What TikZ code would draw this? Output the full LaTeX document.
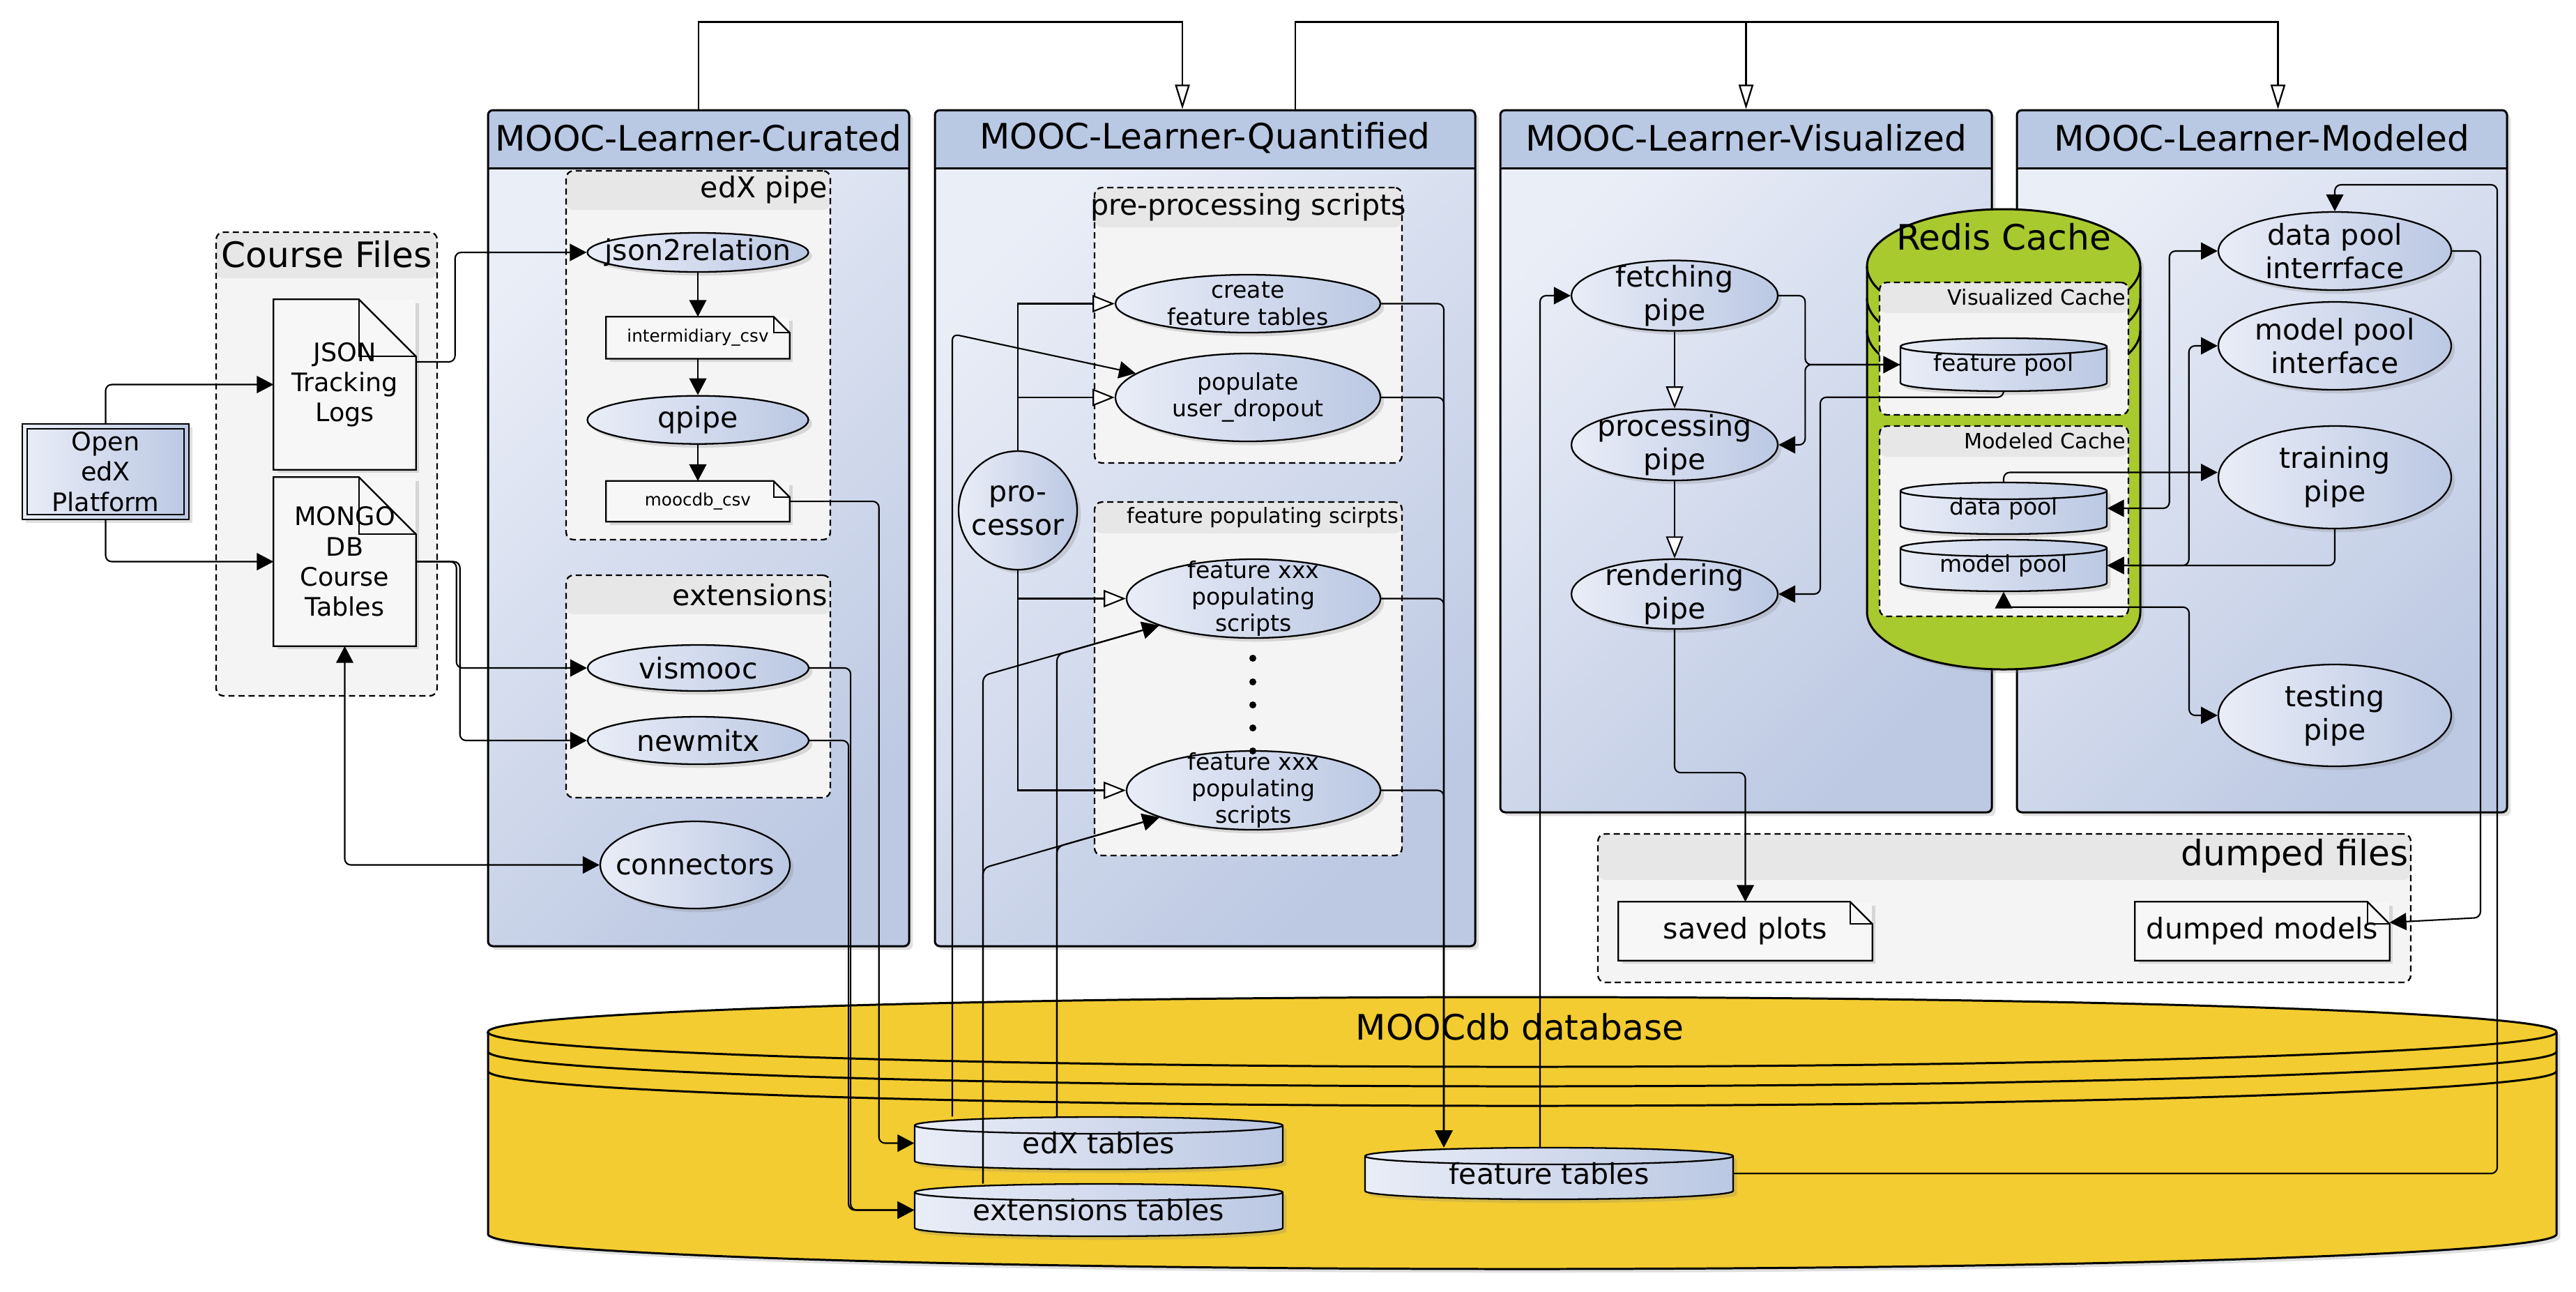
\documentclass[tikz,border=0pt]{standalone}
\usepackage{fontspec}
\setmainfont{DejaVu Sans}
\usepackage{tikz}
\usetikzlibrary{positioning,arrows.meta,shapes.geometric,shadows}
\usepackage{xcolor}
\definecolor{PanelHead}{RGB}{185,200,227}
\definecolor{PanelLight}{RGB}{234,238,247}
\definecolor{PanelDark}{RGB}{189,201,227}
\definecolor{PipeLight}{RGB}{233,237,247}
\definecolor{PipeDark}{RGB}{187,200,227}
\definecolor{GroupFill}{RGB}{244,244,244}
\definecolor{GroupHead}{RGB}{231,231,231}
\definecolor{DocFill}{RGB}{247,247,247}
\definecolor{RedisGreen}{RGB}{168,202,46}
\definecolor{DbYellow}{RGB}{242,204,48}
\newcommand{\fBig}{\fontsize{14.3}{16.8}\selectfont}
\newcommand{\fMain}{\fontsize{11.7}{13.7}\selectfont}
\newcommand{\fMid}{\fontsize{10.4}{12.3}\selectfont}
\newcommand{\fSmall}{\fontsize{9.4}{10.9}\selectfont}
\newcommand{\fTiny}{\fontsize{8.6}{10}\selectfont}
\newcommand{\fCsv}{\fontsize{7}{8.2}\selectfont}
\newcommand{\dogear}[2]{%
\draw[line width=0.65pt] (#1.south west) -- (#1.north west) -- ([xshift=-#2]#1.north east) -- ([yshift=-#2]#1.north east) -- (#1.south east) -- cycle;
\draw[line width=0.65pt] ([xshift=-#2]#1.north east) |- ([yshift=-#2]#1.north east);}
\newcommand{\dbtable}[6]{%
\draw[line width=0.65pt,left color=PipeLight,right color=PipeDark,drop shadow={opacity=0.25,shadow xshift=1.5pt,shadow yshift=-1.5pt}]
 (#2-#4/2,#3+#5/2-0.12) -- (#2-#4/2,#3-#5/2+0.12) arc[start angle=180,end angle=360,x radius=#4/2,y radius=0.12]
 -- (#2+#4/2,#3+#5/2-0.12) arc[start angle=0,end angle=180,x radius=#4/2,y radius=0.12] -- cycle;
\draw[line width=0.65pt] (#2-#4/2,#3+#5/2-0.12) arc[start angle=180,end angle=360,x radius=#4/2,y radius=0.12];
\node[rectangle,inner sep=0pt,minimum width=#4cm,minimum height=#5cm] (#1) at (#2,#3) {#6};}

\begin{document}
\begin{tikzpicture}[
softshadow/.style={drop shadow={opacity=0.25,shadow xshift=1.5pt,shadow yshift=-1.5pt}},
panel/.style={rectangle,rounded corners=2pt,draw,line width=0.85pt,top color=PanelLight,bottom color=PanelDark,shading angle=45,softshadow,
 path picture={\fill[PanelHead] (path picture bounding box.north west) rectangle ([yshift=-8.3mm]path picture bounding box.north east);
 \draw[line width=0.85pt] ([yshift=-8.3mm]path picture bounding box.north west) -- ([yshift=-8.3mm]path picture bounding box.north east);}},
paneltitle/.style={font=\fBig,inner sep=0pt},
cluster/.style={rectangle,rounded corners=3pt,draw,dash pattern=on 2.5pt off 1.6pt,line width=0.65pt,fill=GroupFill,
 path picture={\fill[GroupHead] (path picture bounding box.north west) rectangle ([yshift=-#1]path picture bounding box.north east);}},
cluster/.default=5.6mm,
clustertitle/.style={font=\fMain,inner sep=0pt},
pipe/.style={ellipse,draw,line width=0.65pt,left color=PipeLight,right color=PipeDark,inner sep=0pt,softshadow},
pipetext/.style={align=center,font=\fMain,inner sep=0pt},
doc/.style={rectangle,fill=DocFill,inner sep=0pt,align=center,softshadow},
platform/.style={rectangle,draw,line width=0.65pt,left color=PipeLight,right color=PipeDark,align=center,font=\fMid,inner sep=0pt,softshadow,
 path picture={\draw[line width=0.65pt] ([shift={(2pt,-2pt)}]path picture bounding box.north west) rectangle ([shift={(-2pt,2pt)}]path picture bounding box.south east);}},
proc/.style={circle,draw,line width=0.65pt,left color=PipeLight,right color=PipeDark,inner sep=0pt,minimum size=1.7cm,align=center,font=\fMain,softshadow},
arrow/.style={-{Triangle[length=6.8pt,width=7pt]},line width=0.6pt,rounded corners=2.5pt},
biarrow/.style={{Triangle[length=6.8pt,width=7pt]}-{Triangle[length=6.8pt,width=7pt]},line width=0.6pt,rounded corners=2.5pt},
openarrow/.style={-{Triangle[length=9pt,width=7pt,fill=white]},line width=0.6pt},
toparrow/.style={-{Triangle[length=10pt,width=6pt,fill=white]},line width=0.65pt}
]
\useasboundingbox (0,0) rectangle (36.95,-18.52);

\node[panel,minimum width=6.04cm,minimum height=11.99cm] (curated) at (10.02,-7.575) {};
\node[paneltitle] at ([yshift=-4.15mm]curated.north) {MOOC-Learner-Curated};
\node[panel,minimum width=7.75cm,minimum height=11.99cm] (quantified) at (17.285,-7.575) {};
\node[paneltitle] at ([yshift=-4.15mm]quantified.north) {MOOC-Learner-Quantified};
\node[panel,minimum width=7.05cm,minimum height=10.07cm] (visualized) at (25.045,-6.615) {};
\node[paneltitle] at ([yshift=-4.15mm]visualized.north) {MOOC-Learner-Visualized};
\node[panel,minimum width=7.03cm,minimum height=10.07cm] (modeled) at (32.445,-6.615) {};
\node[paneltitle] at ([yshift=-4.15mm]modeled.north) {MOOC-Learner-Modeled};

\node[cluster=6.6mm,minimum width=3.17cm,minimum height=6.65cm] (coursefiles) at (4.685,-6.655) {};
\node[clustertitle,font=\fBig] at ([yshift=-3.3mm]coursefiles.north) {Course Files};
\node[cluster,minimum width=3.79cm,minimum height=5.29cm] (edxpipe) at (10.015,-5.095) {};
\node[clustertitle,anchor=east] at ([xshift=-0.5mm,yshift=-2.8mm]edxpipe.north east) {edX pipe};
\node[cluster,minimum width=3.79cm,minimum height=3.19cm] (extensions) at (10.015,-9.845) {};
\node[clustertitle,anchor=east] at ([xshift=-0.5mm,yshift=-2.9mm]extensions.north east) {extensions};
\node[cluster=5.7mm,minimum width=4.41cm,minimum height=3.95cm] (prescripts) at (17.905,-4.665) {};
\node[clustertitle] at ([yshift=-2.9mm]prescripts.north) {pre-processing scripts};
\node[cluster=4.5mm,minimum width=4.41cm,minimum height=5.07cm] (featscripts) at (17.905,-9.735) {};
\node[clustertitle,anchor=east,font=\fTiny] at ([xshift=-0.5mm,yshift=-2.3mm]featscripts.north east) {feature populating scirpts};

\draw[line width=0.85pt,fill=RedisGreen,softshadow] (26.78,-3.82) -- (26.78,-8.78) arc[start angle=180,end angle=360,x radius=1.96,y radius=0.82]
 -- (30.70,-3.82) arc[start angle=0,end angle=180,x radius=1.96,y radius=0.82] -- cycle;
\foreach \ry in {3.82,4.28,4.74}
 \draw[line width=0.85pt] (26.78,-\ry) arc[start angle=180,end angle=360,x radius=1.96,y radius=0.82];
\node[paneltitle] (redistitle) at (28.74,-3.40) {Redis Cache};
\node[cluster=4.4mm,minimum width=3.57cm,minimum height=1.90cm] (viscache) at (28.745,-5.00) {};
\node[clustertitle,anchor=east,font=\fTiny] at ([xshift=-0.4mm,yshift=-2.2mm]viscache.north east) {Visualized Cache};
\node[cluster=4.4mm,minimum width=3.57cm,minimum height=2.73cm] (modcache) at (28.745,-7.475) {};
\node[clustertitle,anchor=east,font=\fTiny] at ([xshift=-0.4mm,yshift=-2.2mm]modcache.north east) {Modeled Cache};

\node[cluster=6.6mm,minimum width=11.66cm,minimum height=2.13cm] (dumped) at (28.75,-13.025) {};
\node[clustertitle,anchor=east,font=\fBig] at ([xshift=-0.4mm,yshift=-3.3mm]dumped.north east) {dumped files};

\draw[line width=0.85pt,fill=DbYellow,softshadow] (7.00,-14.80) -- (7.00,-17.70) arc[start angle=180,end angle=360,x radius=14.835,y radius=0.5]
 -- (36.67,-14.80) arc[start angle=0,end angle=180,x radius=14.835,y radius=0.5] -- cycle;
\foreach \ry in {14.80,15.08,15.36}
 \draw[line width=0.85pt] (7.00,-\ry) arc[start angle=180,end angle=360,x radius=14.835,y radius=0.5];
\node[paneltitle] (moocdbtitle) at (21.80,-14.73) {MOOCdb database};

\node[platform,minimum width=2.39cm,minimum height=1.37cm] (edx) at (1.515,-6.765) {Open\\edX\\Platform};
\node[doc,minimum width=2.03cm,minimum height=2.43cm,font=\fMid] (json) at (4.945,-5.515) {JSON\\Tracking\\Logs};
\dogear{json}{8.2mm}
\node[doc,minimum width=2.03cm,minimum height=2.41cm,font=\fMid] (mongo) at (4.945,-8.055) {MONGO\\DB\\Course\\Tables};
\dogear{mongo}{8.2mm}

\node[pipe,minimum width=3.17cm,minimum height=0.56cm,label={[pipetext]center:json2relation}] (j2r) at (10.01,-3.62) {};
\node[doc,minimum width=2.62cm,minimum height=0.59cm,font=\fCsv,below=6.3mm of j2r] (intercsv) {intermidiary\_csv};
\dogear{intercsv}{2.3mm}
\node[pipe,minimum width=3.17cm,minimum height=0.69cm,below=5.2mm of intercsv,label={[pipetext]center:qpipe}] (qpipe) {};
\node[doc,minimum width=2.62cm,minimum height=0.57cm,font=\fCsv,below=5.2mm of qpipe] (moocsv) {moocdb\_csv};
\dogear{moocsv}{2.3mm}
\node[pipe,minimum width=3.17cm,minimum height=0.66cm,label={[pipetext]center:vismooc}] (vismooc) at (10.015,-9.58) {};
\node[pipe,minimum width=3.17cm,minimum height=0.68cm,label={[pipetext]center:newmitx}] (newmitx) at (10.015,-10.62) {};
\node[pipe,minimum width=2.72cm,minimum height=1.25cm,label={[pipetext]center:connectors}] (connectors) at (9.97,-12.405) {};

\node[pipe,minimum width=3.80cm,minimum height=0.83cm,label={[pipetext,font=\fSmall]center:create\\feature tables}] (create) at (17.90,-4.355) {};
\node[pipe,minimum width=3.80cm,minimum height=1.26cm,label={[pipetext,font=\fSmall]center:populate\\user\_dropout}] (populate) at (17.90,-5.70) {};
\node[proc] (processor) at (14.60,-7.32) {pro-\\cessor};
\node[pipe,minimum width=3.64cm,minimum height=1.13cm,label={[pipetext,font=\fSmall]center:feature xxx\\populating\\scripts}] (feat1) at (17.98,-8.585) {};
\node[pipe,minimum width=3.64cm,minimum height=1.13cm,label={[pipetext,font=\fSmall]center:feature xxx\\populating\\scripts}] (feat2) at (17.98,-11.335) {};
\foreach \y in {9.44,9.78,10.11,10.44,10.77}
 \fill (17.97,-\y) circle (0.05);

\node[pipe,minimum width=2.96cm,minimum height=1.01cm,label={[pipetext]center:fetching\\pipe}] (fetching) at (24.02,-4.24) {};
\node[pipe,minimum width=2.96cm,minimum height=1.02cm,label={[pipetext]center:processing\\pipe}] (processing) at (24.02,-6.38) {};
\node[pipe,minimum width=2.96cm,minimum height=1.00cm,label={[pipetext]center:rendering\\pipe}] (rendering) at (24.02,-8.52) {};

\dbtable{fpool}{28.74}{-5.23}{2.96}{0.76}{\fSmall feature pool}
\dbtable{dpool}{28.74}{-7.29}{2.96}{0.74}{\fSmall data pool}
\dbtable{mpool}{28.74}{-8.11}{2.96}{0.74}{\fSmall model pool}

\node[pipe,minimum width=3.34cm,minimum height=1.12cm,label={[pipetext]center:data pool\\interrface}] (dpi) at (33.49,-3.60) {};
\node[pipe,minimum width=3.34cm,minimum height=1.26cm,label={[pipetext]center:model pool\\interface}] (mpi) at (33.49,-4.96) {};
\node[pipe,minimum width=3.34cm,minimum height=1.47cm,label={[pipetext]center:training\\pipe}] (training) at (33.49,-6.845) {};
\node[pipe,minimum width=3.34cm,minimum height=1.46cm,label={[pipetext]center:testing\\pipe}] (testing) at (33.49,-10.26) {};

\node[doc,minimum width=3.63cm,minimum height=0.83cm,font=\fMain] (savedplots) at (25.035,-13.355) {saved plots};
\dogear{savedplots}{3.2mm}
\node[doc,minimum width=3.64cm,minimum height=0.83cm,font=\fMain] (dumpedmodels) at (32.45,-13.355) {dumped models};
\dogear{dumpedmodels}{3.2mm}

\dbtable{edxtables}{15.76}{-16.395}{5.28}{0.75}{\fMain edX tables}
\dbtable{exttables}{15.76}{-17.355}{5.28}{0.75}{\fMain extensions tables}
\dbtable{feattables}{22.22}{-16.83}{5.28}{0.74}{\fMain feature tables}

\draw[arrow] (edx.north) |- (json.west);
\draw[arrow] (edx.south) |- (mongo.west);
\draw[arrow] ([yshift=3.25mm]json.east) -- ++(0.56,0) |- (j2r.west);
\draw[arrow] (mongo.east) -- ++(0.58,0) |- (vismooc.west);
\draw[arrow] (mongo.east) -- ++(0.63,0) |- (newmitx.west);
\draw[biarrow] (mongo.south) |- (connectors.west);
\draw[arrow] (j2r) -- (intercsv);
\draw[arrow] (intercsv) -- (qpipe);
\draw[arrow] (qpipe) -- (moocsv);
\draw[arrow] (moocsv.east) -- ++(1.28,0) |- (edxtables.west);
\draw[arrow] (vismooc.east) -- ++(0.59,0) |- (exttables.west);
\draw[arrow] (newmitx.east) -- ++(0.56,0) |- (exttables.west);

\draw[toparrow] (curated.north) -- ++(0,1.25) -| ([xshift=-3.25mm]quantified.north);
\draw[toparrow] ([xshift=12.95mm]quantified.north) -- ++(0,1.25) -| (visualized.north);
\draw[toparrow] ([xshift=12.95mm]quantified.north) -- ++(0,1.25) -| ([xshift=2.3mm]modeled.north);

\draw[openarrow] (processor.north) |- (create.west);
\draw[openarrow] (processor.north) |- (populate.west);
\draw[openarrow] (processor.south) |- (feat1.west);
\draw[openarrow] (processor.south) |- (feat2.west);
\draw[arrow] ([xshift=-21mm]edxtables.north) -- (13.66,-4.79) -- (populate);
\draw[arrow] ([xshift=-16.6mm]exttables.north) -- (14.10,-9.69) -- (feat1);
\draw[arrow] ([xshift=-6mm]edxtables.north) -- (15.16,-9.39) -- (feat1);
\draw[arrow] ([xshift=-16.6mm]exttables.north) -- (14.10,-12.45) -- (feat2);
\draw[arrow] ([xshift=-6mm]edxtables.north) -- (15.16,-12.145) -- (feat2);
\draw[arrow] (create.east) -| ([xshift=-15.1mm]feattables.north);
\draw[arrow] (populate.east) -| ([xshift=-15.1mm]feattables.north);
\draw[arrow] (feat1.east) -| ([xshift=-15.1mm]feattables.north);
\draw[arrow] (feat2.east) -| ([xshift=-15.1mm]feattables.north);

\draw[arrow] ([xshift=-1.3mm]feattables.north) |- (fetching.west);
\draw[arrow] (feattables.east) -| (35.82,-2.65) -| (dpi.north);
\draw[arrow] (dpi.east) -| (35.58,-13.16) -- ([yshift=1.25mm]dumpedmodels.east);

\draw[openarrow] (fetching) -- (processing);
\draw[openarrow] (processing) -- (rendering);
\draw[arrow] (fetching.east) -| ([xshift=-13.6mm]fpool.west) -- (fpool.west);
\draw[arrow] (fpool.west) -- ([xshift=-13.6mm]fpool.west) |- (processing.east);
\draw[arrow] (fpool.south) -- ++(0,-0.08) -- ++(-2.63,0) |- (rendering.east);
\draw[arrow] (rendering.south) -- ++(0,-2.05) -| (savedplots.north);

\draw[biarrow] (dpool.east) -- ++(0.89,0) |- (dpi.west);
\draw[biarrow] (mpool.east) -- ++(1.17,0) |- (mpi.west);
\draw[arrow] (dpool.north) |- ([yshift=0.7mm]training.west);
\draw[arrow] (training.south) |- (mpool.east);
\draw[biarrow] (mpool.south) -- ++(0,-0.22) -- ++(2.66,0) |- (testing.west);
\end{tikzpicture}
\end{document}
